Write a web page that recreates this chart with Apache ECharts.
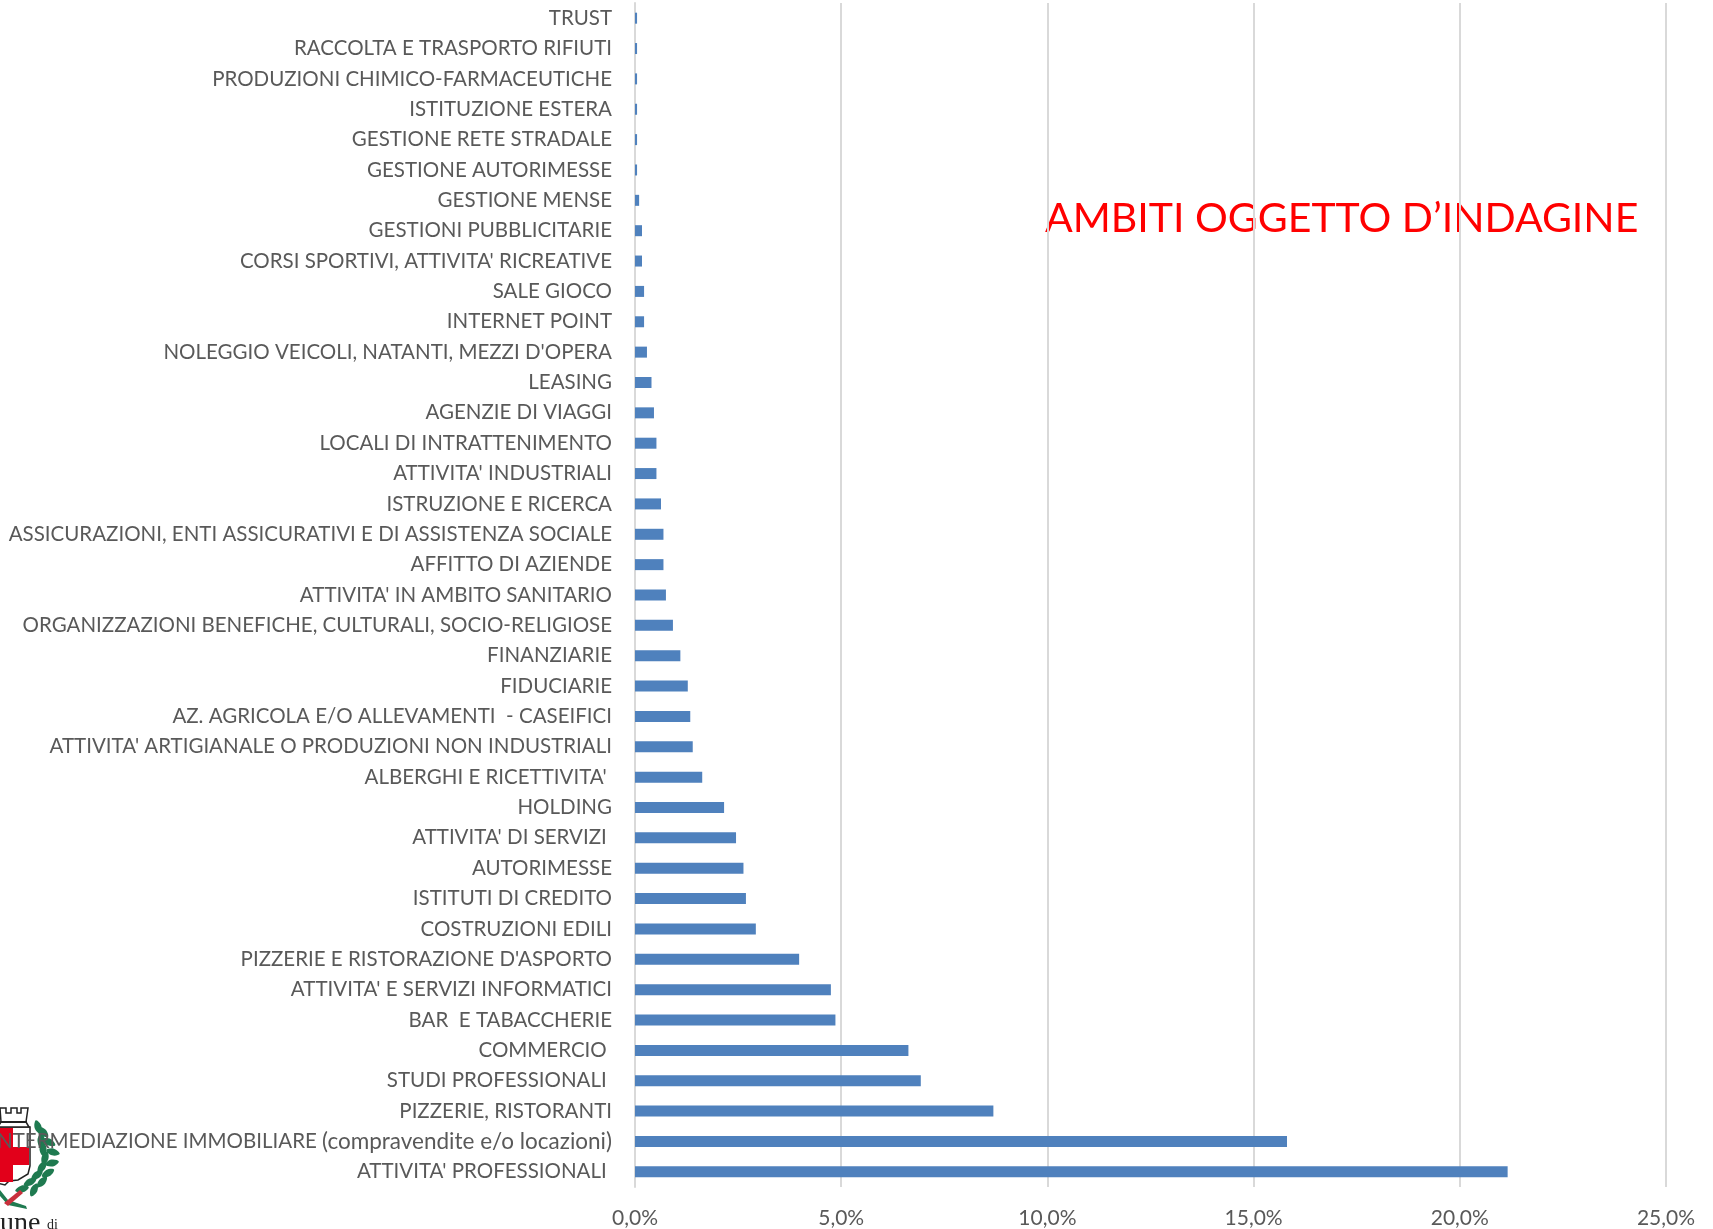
<!DOCTYPE html>
<html>
<head>
<meta charset="utf-8">
<style>html,body{margin:0;padding:0;background:#fff}#myChart{width:1713px;height:1229px}</style>
<script src="https://cdn.jsdelivr.net/npm/echarts@6/dist/echarts.min.js"></script>
</head>
<body>
<div id="myChart"></div>
<script>
var categories = ["ATTIVITA' PROFESSIONALI ", "INTERMEDIAZIONE IMMOBILIARE (compravendite e/o locazioni)", "PIZZERIE, RISTORANTI", "STUDI PROFESSIONALI ", "COMMERCIO ", "BAR  E TABACCHERIE", "ATTIVITA' E SERVIZI INFORMATICI", "PIZZERIE E RISTORAZIONE D'ASPORTO", "COSTRUZIONI EDILI", "ISTITUTI DI CREDITO", "AUTORIMESSE", "ATTIVITA' DI SERVIZI ", "HOLDING", "ALBERGHI E RICETTIVITA' ", "ATTIVITA' ARTIGIANALE O PRODUZIONI NON INDUSTRIALI", "AZ. AGRICOLA E/O ALLEVAMENTI  - CASEIFICI", "FIDUCIARIE", "FINANZIARIE", "ORGANIZZAZIONI BENEFICHE, CULTURALI, SOCIO-RELIGIOSE", "ATTIVITA' IN AMBITO SANITARIO", "AFFITTO DI AZIENDE", "ASSICURAZIONI, ENTI ASSICURATIVI E DI ASSISTENZA SOCIALE", "ISTRUZIONE E RICERCA", "ATTIVITA' INDUSTRIALI", "LOCALI DI INTRATTENIMENTO", "AGENZIE DI VIAGGI", "LEASING", "NOLEGGIO VEICOLI, NATANTI, MEZZI D'OPERA", "INTERNET POINT", "SALE GIOCO", "CORSI SPORTIVI, ATTIVITA' RICREATIVE", "GESTIONI PUBBLICITARIE", "GESTIONE MENSE", "GESTIONE AUTORIMESSE", "GESTIONE RETE STRADALE", "ISTITUZIONE ESTERA", "PRODUZIONI CHIMICO-FARMACEUTICHE", "RACCOLTA E TRASPORTO RIFIUTI", "TRUST"];
var values = [21.16, 15.81, 8.69, 6.93, 6.63, 4.86, 4.75, 3.98, 2.93, 2.69, 2.63, 2.45, 2.16, 1.63, 1.40, 1.34, 1.28, 1.10, 0.92, 0.75, 0.69, 0.69, 0.63, 0.52, 0.52, 0.46, 0.40, 0.29, 0.22, 0.22, 0.17, 0.17, 0.10, 0.05, 0.05, 0.05, 0.05, 0.05, 0.05];
var title = 'AMBITI OGGETTO D’INDAGINE';

// crest in the bottom left corner, leaves of the wreath as [x, y, angle]
var leaves = [[38,1127,0.3],[43,1132,0.8],[41,1140,-0.1],[49,1142,1.1],[43,1149,0],[53,1152,1.3],[45,1158,-0.3],[52,1163,1.8],[42,1167,-0.6],[48,1173,2.1],[37,1175,-0.9],[42,1182,2.4],[30,1182,-1.1],[34,1190,2.7],[22,1189,-1.3]];

var logo = [];
logo.push({ type: 'polygon', z: -1, shape: { points: [[-3,1127],[30,1127],[30,1166],[28,1174],[18,1180],[9,1181],[5,1185],[-3,1183]] }, style: { fill: '#fff', stroke: '#222', lineWidth: 1.5 } });
logo.push({ type: 'rect', z: -1, shape: { x: 0, y: 1128, width: 13, height: 54 }, style: { fill: '#e2001a' } });
logo.push({ type: 'rect', z: -1, shape: { x: 0, y: 1147, width: 29, height: 18 }, style: { fill: '#e2001a' } });
logo.push({ type: 'polygon', z: -1, shape: { points: [[0,1108],[6,1108],[6,1113],[11,1113],[11,1108],[17,1108],[17,1113],[21,1113],[21,1108],[28,1108],[26,1122],[29,1127],[-2,1127],[1,1122]] }, style: { fill: '#fff', stroke: '#222', lineWidth: 1.5 } });
logo.push({ type: 'rect', z: -1, shape: { x: 0, y: 1121, width: 27, height: 2 }, style: { fill: '#222' } });
leaves.forEach(function (l) {
    logo.push({ type: 'polygon', z: -1, x: l[0], y: l[1], rotation: l[2], shape: { points: [[0,-7],[3.5,0],[0,7],[-3.5,0]], smooth: 0.4 }, style: { fill: '#1f7a50' } });
});
logo.push({ type: 'polygon', z: -1, shape: { points: [[0,1190],[8,1200],[26,1206],[27,1209],[8,1205],[0,1196]] }, style: { fill: '#1f7a50' } });
logo.push({ type: 'polygon', z: -1, shape: { points: [[4,1203],[20,1190],[23,1193],[8,1206]] }, style: { fill: '#c9303c' } });
logo.push({ type: 'text', z: -1, x: 0, y: 1210, style: { text: 'une', fill: '#222', font: '28px "Liberation Serif"' } });
logo.push({ type: 'text', z: -1, x: 47, y: 1218, style: { text: 'di', fill: '#222', font: '14px "Liberation Serif"' } });

var myChart = echarts.init(document.getElementById('myChart'));

myChart.setOption({
    animation: false,
    backgroundColor: '#fff',
    textStyle: { fontFamily: 'Lato' },
    grid: { left: 635, right: 47, top: 3, bottom: 42, outerBoundsMode: 'none' },
    xAxis: {
        type: 'value',
        min: 0,
        max: 25,
        interval: 5,
        axisLine: { show: false },
        axisTick: { show: false },
        axisLabel: {
            color: '#595959',
            fontSize: 21,
            margin: 21,
            formatter: function (v) { return v.toFixed(1).replace('.', ',') + '%'; }
        },
        splitLine: { lineStyle: { color: '#d9d9d9', width: 2 } }
    },
    yAxis: {
        type: 'category',
        data: categories,
        axisLine: { lineStyle: { color: '#d9d9d9', width: 2 } },
        axisTick: { show: false },
        axisLabel: {
            color: '#595959',
            fontSize: 20.5,
            margin: 23,
            interval: 0,
            // the lowercase part reads larger than the capitals in the reference
            formatter: function (v) { return v.replace(/\(.*\)/, function (m) { return '{low|' + m + '}'; }); },
            rich: { low: { color: '#595959', fontSize: 22.5 } }
        }
    },
    series: [{
        type: 'bar',
        data: values,
        barWidth: 11,
        itemStyle: { color: '#4f81bd' }
    }],
    graphic: logo.concat([{
        type: 'text',
        x: 1045,
        y: 198,
        style: { text: title, fill: '#ff0000', font: '41px Lato' }
    }])
});

window.onresize = function () {
    myChart.resize();
};
</script>
</body>
</html>
